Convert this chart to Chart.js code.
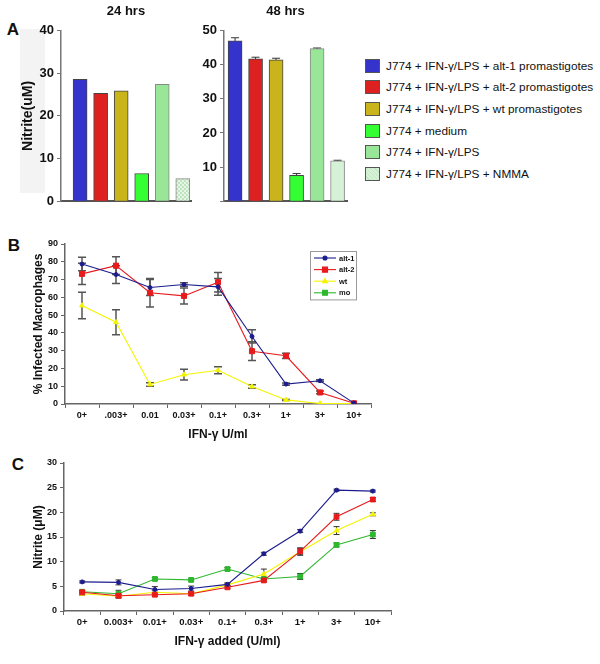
<!DOCTYPE html>
<html lang="en">
<head>
<meta charset="utf-8">
<script src="https://cdn.jsdelivr.net/npm/chart.js@4.4.1/dist/chart.umd.min.js"></script>
<style>
  html, body { margin: 0; padding: 0; background: #fff; }
  body { width: 600px; height: 664px; position: relative; overflow: hidden; font-family: Arial, "Liberation Sans", sans-serif; }
  canvas { position: absolute; }
  .lettre { position: absolute; font: bold 17px Arial, "Liberation Sans", sans-serif; color: #111; transform: translate(-50%, -50%); }
  .fond-titre { position: absolute; left: 20px; top: 29px; width: 25px; height: 164px; background: #f3f3f3; }
  #legendeA { position: absolute; left: 365px; top: 55px; font: 11.8px Arial, "Liberation Sans", sans-serif; color: #111; }
  #legendeA .ligne { display: flex; align-items: center; height: 21.6px; white-space: nowrap; }
  #legendeA .carre { width: 15px; height: 14px; border: 1px solid #555; margin-right: 6px; box-sizing: border-box; }
</style>
</head>
<body>
<div class="fond-titre"></div>
<div class="lettre" style="left:13px; top:30px;">A</div>
<div class="lettre" style="left:14px; top:246px;">B</div>
<div class="lettre" style="left:18px; top:465px;">C</div>

<canvas id="graphique24h" width="200" height="212" style="left:0; top:0;"></canvas>
<canvas id="graphique48h" width="155" height="212" style="left:200px; top:0;"></canvas>
<div id="legendeA"></div>
<canvas id="graphiqueB" width="400" height="220" style="left:0; top:225px;"></canvas>
<canvas id="graphiqueC" width="405" height="219" style="left:0; top:445px;"></canvas>

<script>
// ============================================================================
// Données
// ============================================================================
// Panneau A : nitrite (uM) par condition
const conditions = [
    'J774 + IFN-γ/LPS + alt-1 promastigotes',
    'J774 + IFN-γ/LPS + alt-2 promastigotes',
    'J774 + IFN-γ/LPS + wt promastigotes',
    'J774 + medium',
    'J774 + IFN-γ/LPS',
    'J774 + IFN-γ/LPS + NMMA'
];
const nitrite24h = [28.6, 25.3, 25.9, 6.5, 27.4, 5.3];
const erreur24h  = [0, 0, 0, 0, 0, 0];
const nitrite48h = [47.0, 41.7, 41.4, 7.6, 44.7, 11.8];
const erreur48h  = [0.9, 0.5, 0.5, 0.5, 0.2, 0.2];

// Panneau B : % de macrophages infectés
const dosesB = ['0+', '.003+', '0.01', '0.03+', '0.1+', '0.3+', '1+', '3+', '10+'];
const infectesAlt1 = [78.7, 72.8, 65.5, 67.2, 65.9, 38.0, 11.2, 13.1, 0.5];
const erreurAlt1   = [3.8, 5.0, 4.5, 1.0, 4.7, 3.7, 0.6, 0.5, 0];
const infectesAlt2 = [73.2, 77.8, 62.6, 60.8, 68.5, 29.7, 27.1, 6.5, 0.4];
const erreurAlt2   = [6.0, 5.0, 8.0, 4.5, 5.5, 5.3, 1.5, 0.8, 0];
const infectesWt   = [55.4, 46.0, 11.0, 16.5, 19.0, 9.8, 2.3, 0.3, 0.3];
const erreurWt     = [7.4, 7.0, 1.0, 3.0, 2.0, 1.0, 0.3, 0, 0];
const infectesMo   = [];

// Panneau C : nitrite (uM) selon l'IFN-γ ajouté
const dosesC = ['0+', '0.003+', '0.01+', '0.03+', '0.1+', '0.3+', '1+', '3+', '10+'];
const nitriteAlt1 = [5.9, 5.8, 4.35, 4.55, 5.4, 11.6, 16.2, 24.5, 24.3];
const erreurNAlt1 = [0.2, 0.5, 0.6, 0.5, 0.3, 0.3, 0.3, 0.2, 0.2];
const nitriteAlt2 = [3.8, 3.1, 3.3, 3.5, 4.8, 6.2, 12.1, 19.1, 22.6];
const erreurNAlt2 = [0.3, 0.3, 0.3, 0.3, 0.3, 0.3, 0.7, 0.7, 0.4];
const nitriteWt   = [3.5, 3.0, 3.8, 3.5, 5.3, 7.5, 12.0, 16.3, 19.6];
const erreurNWt   = [0.3, 0.4, 0.3, 0.3, 0.3, 1.0, 0.7, 0.8, 0.3];
const nitriteMo   = [3.9, 3.5, 6.5, 6.3, 8.5, 6.5, 7.0, 13.4, 15.5];
const erreurNMo   = [0.3, 0.7, 0.3, 0.2, 0.3, 0.3, 0.6, 0.4, 0.8];

// ============================================================================
// Styles
// ============================================================================
const POLICE = 'Arial, "Liberation Sans", sans-serif';
const BLEU_NUIT = '#1c1c8e';
const ROUGE = '#e81a1c';
const JAUNE = '#f4f400';
const VERT = '#2db82d';

Chart.defaults.font.family = POLICE;
Chart.defaults.color = '#111';
Chart.defaults.animation = false;
Chart.defaults.responsive = false;
Chart.defaults.plugins.legend.display = false;
Chart.defaults.plugins.tooltip.enabled = false;

// Motif quadrillé pour la barre NMMA à 24 h
function motifQuadrille() {
    const c = document.createElement('canvas');
    c.width = 4; c.height = 4;
    const g = c.getContext('2d');
    g.fillStyle = '#e6f6e6';
    g.fillRect(0, 0, 4, 4);
    g.fillStyle = '#bfe2bf';
    g.fillRect(0, 0, 2, 2);
    g.fillRect(2, 2, 2, 2);
    return g.createPattern(c, 'repeat');
}

const couleursBarres = ['#3434cc', '#dd2020', '#c9b51b', '#33ff33', '#99e699', '#d6f2d6'];
const bordsBarres = ['#444', '#444', '#444', '#444', '#888', '#888'];

// ============================================================================
// Plugin : barres d'erreur (dessinées sous les marques)
// ============================================================================
const pluginErreurs = {
    id: 'barresErreur',
    beforeDatasetsDraw(chart, args, opts) {
        const ctx = chart.ctx;
        ctx.save();
        ctx.strokeStyle = opts.couleur || '#333';
        ctx.lineWidth = opts.epaisseur || 1;
        const demi = opts.demiLargeur || 4;
        chart.data.datasets.forEach((ds, i) => {
            if (!ds.erreurs) return;
            const meta = chart.getDatasetMeta(i);
            const echelleY = chart.scales[meta.yAxisID];
            meta.data.forEach((el, j) => {
                const err = ds.erreurs[j];
                if (!err) return;
                const v = meta.controller.getParsed(j).y;
                const yHaut = echelleY.getPixelForValue(v + err);
                const yBas = echelleY.getPixelForValue(v - err);
                ctx.beginPath();
                ctx.moveTo(el.x, yHaut); ctx.lineTo(el.x, yBas);
                ctx.moveTo(el.x - demi, yHaut); ctx.lineTo(el.x + demi, yHaut);
                ctx.moveTo(el.x - demi, yBas); ctx.lineTo(el.x + demi, yBas);
                ctx.stroke();
            });
        });
        ctx.restore();
    }
};

// ============================================================================
// Plugin : légende encadrée du panneau B
// ============================================================================
const pluginLegendeB = {
    id: 'legendeEncadree',
    afterDraw(chart) {
        const { ctx, chartArea } = chart;
        const largeur = 46, pas = 11.6;
        const x0 = chartArea.right - 15 - largeur;
        const y0 = chartArea.top + 7;
        const n = chart.data.datasets.length;
        ctx.save();
        ctx.strokeStyle = '#999';
        ctx.lineWidth = 1;
        ctx.strokeRect(x0 + 0.5, y0 + 0.5, largeur, pas * n + 2);
        chart.data.datasets.forEach((ds, i) => {
            const y = y0 + 7 + i * pas;
            ctx.strokeStyle = ds.borderColor;
            ctx.lineWidth = 1.1;
            ctx.beginPath();
            ctx.moveTo(x0 + 4, y); ctx.lineTo(x0 + 26, y);
            ctx.stroke();
            ctx.fillStyle = ds.backgroundColor;
            Chart.helpers.drawPoint(ctx, {
                pointStyle: ds.pointStyle,
                radius: ds.pointRadius,
                borderWidth: 1
            }, x0 + 15, y);
            ctx.fillStyle = '#111';
            ctx.font = 'bold 7.5px ' + POLICE;
            ctx.textBaseline = 'middle';
            ctx.fillText(ds.label, x0 + 29, y + 0.5);
        });
        ctx.restore();
    }
};

// ============================================================================
// Panneau A : histogrammes 24 h / 48 h
// ============================================================================
function creerHistogramme(idCanvas, valeurs, erreurs, titre, reglages) {
    const fonds = couleursBarres.slice();
    if (reglages.motif) fonds[5] = motifQuadrille();

    return new Chart(document.getElementById(idCanvas), {
        type: 'bar',
        data: {
            datasets: [{
                data: valeurs.map((v, i) => ({ x: i, y: v })),
                erreurs: erreurs,
                backgroundColor: fonds,
                borderColor: bordsBarres,
                borderWidth: 1,
                barThickness: 14
            }]
        },
        options: {
            layout: { padding: { right: reglages.margeDroite, bottom: 0 } },
            plugins: {
                title: {
                    display: true,
                    text: titre,
                    fullSize: false,
                    font: { size: 13, weight: 'bold' },
                    padding: { top: 4, bottom: 11 }
                },
                barresErreur: { couleur: '#333', epaisseur: 1, demiLargeur: 4 }
            },
            scales: {
                x: {
                    type: 'linear',
                    offset: false,
                    bounds: 'data',
                    min: reglages.xMin,
                    max: reglages.xMax,
                    ticks: { display: false },
                    grid: { display: false, offset: false },
                    border: { display: true, color: '#555', width: 2 },
                    afterFit: s => { s.height = 10; }
                },
                y: {
                    min: 0,
                    max: reglages.yMax,
                    ticks: {
                        stepSize: 10,
                        padding: 3,
                        font: { size: 13, weight: 'bold' },
                        callback: v => (v === 0 && !reglages.zero) ? '' : v
                    },
                    grid: { drawOnChartArea: false, tickLength: 4, color: '#777' },
                    border: { color: '#777', width: 1.5 },
                    title: {
                        display: reglages.titreY,
                        text: 'Nitrite(uM)',
                        font: { size: 14, weight: 'bold' },
                        padding: { top: 20, bottom: 0 }
                    },
                    afterFit: s => { s.width = reglages.largeurY; }
                }
            }
        },
        plugins: [pluginErreurs]
    });
}

creerHistogramme('graphique24h', nitrite24h, erreur24h, '24 hrs', {
    motif: true, xMin: -0.93, xMax: 5.4, yMax: 40, zero: true,
    titreY: true, largeurY: 61, margeDroite: 9
});
creerHistogramme('graphique48h', nitrite48h, erreur48h, '48 hrs', {
    motif: false, xMin: -0.54, xMax: 5.46, yMax: 50, zero: false,
    titreY: false, largeurY: 24, margeDroite: 8
});

// Légende HTML du panneau A
const legendeA = document.getElementById('legendeA');
conditions.forEach((nom, i) => {
    const ligne = document.createElement('div');
    ligne.className = 'ligne';
    const carre = document.createElement('span');
    carre.className = 'carre';
    carre.style.background = couleursBarres[i];
    if (i === 5) carre.style.backgroundImage = 'repeating-linear-gradient(45deg, #d6f2d6 0 2px, #c4e6c4 2px 3px)';
    const texte = document.createElement('span');
    texte.textContent = nom;
    ligne.appendChild(carre);
    ligne.appendChild(texte);
    legendeA.appendChild(ligne);
});

// ============================================================================
// Panneaux B et C : courbes dose-réponse
// ============================================================================
function serie(label, valeurs, erreurs, couleur, forme, rayon) {
    return {
        label: label,
        data: valeurs,
        erreurs: erreurs,
        borderColor: couleur,
        backgroundColor: couleur,
        pointBorderColor: couleur,
        pointBackgroundColor: couleur,
        pointStyle: forme,
        pointRadius: rayon,
        pointBorderWidth: 1,
        borderWidth: 1.1,
        tension: 0
    };
}

function creerCourbes(idCanvas, doses, series, r) {
    return new Chart(document.getElementById(idCanvas), {
        type: 'line',
        data: { labels: doses, datasets: series },
        options: {
            layout: { padding: { top: r.margeHaut, right: r.margeDroite, bottom: 0, left: 0 } },
            plugins: {
                barresErreur: { couleur: r.couleurErreur, epaisseur: r.epaisseurErreur, demiLargeur: r.demiLargeur }
            },
            scales: {
                x: {
                    offset: true,
                    ticks: { font: { size: r.policeX, weight: 'bold' }, padding: 2, maxRotation: 0, autoSkip: false },
                    grid: { offset: true, drawOnChartArea: false, tickLength: 4, color: '#666' },
                    border: { color: '#666', width: 1.5 },
                    title: {
                        display: true,
                        text: r.titreX,
                        font: { size: 12, weight: 'bold' },
                        padding: { top: 0, bottom: r.margeTitreX }
                    },
                    afterFit: s => { s.height = r.hauteurX; }
                },
                y: {
                    min: 0,
                    max: r.yMax,
                    ticks: { stepSize: r.pasY, padding: 3, font: { size: 9, weight: 'bold' } },
                    grid: { drawOnChartArea: false, tickLength: 4, color: '#666' },
                    border: { color: '#666', width: 1.5 },
                    title: {
                        display: true,
                        text: r.titreY,
                        font: { size: 12, weight: 'bold' },
                        padding: { top: 31, bottom: 0 }
                    },
                    afterFit: s => { s.width = r.largeurY; }
                }
            }
        },
        plugins: [pluginErreurs].concat(r.extra || [])
    });
}

creerCourbes('graphiqueB', dosesB, [
    serie('alt-1', infectesAlt1, erreurAlt1, BLEU_NUIT, 'circle', 2),
    serie('alt-2', infectesAlt2, erreurAlt2, ROUGE, 'rect', 3.6),
    serie('wt', infectesWt, erreurWt, JAUNE, 'triangle', 2.8),
    serie('mo', infectesMo, [], VERT, 'rect', 3.4)
], {
    margeHaut: 19, margeDroite: 29, hauteurX: 41, largeurY: 65,
    yMax: 90, pasY: 10, policeX: 9,
    titreX: 'IFN-γ U/ml', margeTitreX: 3, titreY: '% Infected Macrophages',
    couleurErreur: '#555', epaisseurErreur: 1.5, demiLargeur: 4,
    extra: [pluginLegendeB]
});

creerCourbes('graphiqueC', dosesC, [
    serie('alt-1', nitriteAlt1, erreurNAlt1, BLEU_NUIT, 'circle', 2),
    serie('alt-2', nitriteAlt2, erreurNAlt2, ROUGE, 'rect', 3.4),
    serie('wt', nitriteWt, erreurNWt, JAUNE, 'triangle', 2.8),
    serie('mo', nitriteMo, erreurNMo, VERT, 'rect', 3.4)
], {
    margeHaut: 18, margeDroite: 14, hauteurX: 53, largeurY: 64,
    yMax: 30, pasY: 5, policeX: 9.5,
    titreX: 'IFN-γ added (U/ml)', margeTitreX: 15, titreY: 'Nitrite (μM)',
    couleurErreur: '#333', epaisseurErreur: 1, demiLargeur: 3
});
</script>
</body>
</html>
